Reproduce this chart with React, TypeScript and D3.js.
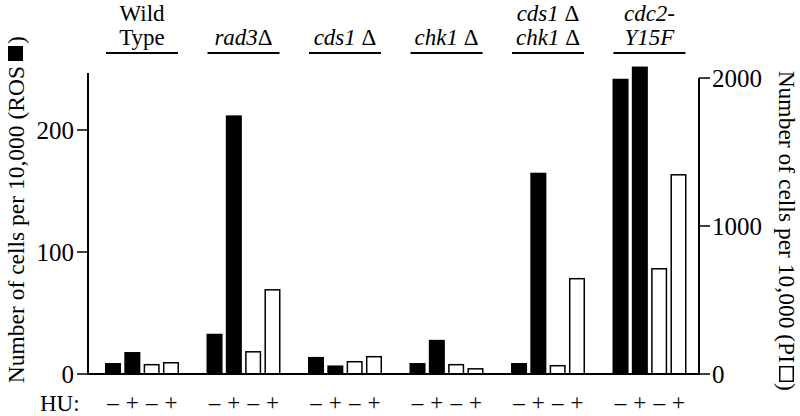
import React from "react";
import * as d3 from "d3";

const groups = ["wt", "rad3", "cds1", "chk1", "cds1chk1", "cdc2"];
const groupLine1 = ["Wild", "", "", "", "cds1", "cdc2-"];
const groupLine2 = ["Type", "rad3", "cds1", "chk1", "chk1", "Y15F"];
const groupItalic = [false, true, true, true, true, true];
const groupDelta1 = [false, false, false, false, true, false];
const groupDelta2 = [false, true, true, true, true, false];
const huLabels = ["–", "+", "–", "+"];
const rosMinus = [9, 33, 14, 9, 9, 242];
const rosPlus = [18, 212, 7, 28, 165, 252];
const piMinus = [68, 155, 88, 68, 61, 716];
const piPlus = [81, 574, 122, 40, 649, 1351];
const leftTicks = [0, 100, 200];
const rightTicks = [0, 1000, 2000];

const FONT = "Liberation Serif";

export default function App() {
  const x = d3.scaleBand<string>().domain(groups).range([91.25, 700.25]).paddingInner(0.271).paddingOuter(0.1355);
  const xi = d3.scaleBand<number>().domain([0, 1, 2, 3]).range([0, x.bandwidth()]).paddingInner(0.17).paddingOuter(0);
  const yL = d3.scaleLinear().domain([0, 200]).range([374, 130]);
  const yR = d3.scaleLinear().domain([0, 2000]).range([374, 78]);
  const leftTop = yL(246.7);
  const axL = 88;
  const axR = 699;
  const base = 374;

  const bars: { x: number; y: number; w: number; h: number; black: boolean }[] = [];
  groups.forEach((g, gi) => {
    const vals = [rosMinus[gi], rosPlus[gi], piMinus[gi], piPlus[gi]];
    vals.forEach((v, k) => {
      const black = k < 2;
      const sc = black ? yL : yR;
      const bx = (x(g) as number) + (xi(k) as number);
      bars.push({ x: bx, y: sc(v), w: xi.bandwidth(), h: base - sc(v), black });
    });
  });

  return (
    <svg width={800} height={416} style={{ position: "absolute", left: 0, top: 0 }}>
      <g fontFamily={FONT}>
        {groups.map((g, gi) => {
          const cx = (x(g) as number) + x.bandwidth() / 2;
          const it = groupItalic[gi] ? "italic" : "normal";
          return (
            <g key={g}>
              {groupLine1[gi] && (
                <text x={cx} y={21} textAnchor="middle" fontSize={23} fontFamily={FONT} fontStyle={it}>
                  {groupLine1[gi]}
                  {groupDelta1[gi] && <tspan fontStyle="normal">{" Δ"}</tspan>}
                </text>
              )}
              <text x={cx} y={45} textAnchor="middle" fontSize={23} fontFamily={FONT} fontStyle={it}>
                {groupLine2[gi]}
                {groupDelta2[gi] && <tspan fontStyle="normal">{gi === 1 ? "Δ" : " Δ"}</tspan>}
              </text>
              <line x1={(x(g) as number) + 1} x2={(x(g) as number) + x.bandwidth() - 1} y1={53} y2={53} stroke="#000" strokeWidth={2.2} />
            </g>
          );
        })}
        {bars.map((b, i) =>
          b.black ? (
            <rect key={i} x={b.x} y={b.y} width={b.w} height={b.h} fill="#000" />
          ) : (
            <rect key={i} x={b.x + 0.75} y={b.y + 0.75} width={b.w - 1.5} height={b.h - 0.75} fill="#fff" stroke="#000" strokeWidth={1.5} />
          )
        )}
        <line x1={axL} x2={axL} y1={leftTop} y2={base + 1} stroke="#000" strokeWidth={2} />
        <line x1={axR} x2={axR} y1={yR(2000)} y2={base + 1} stroke="#000" strokeWidth={2} />
        <line x1={axL} x2={axR} y1={base} y2={base} stroke="#000" strokeWidth={2} />
        {leftTicks.map((t) => (
          <g key={"l" + t}>
            <line x1={axL - 11} x2={axL} y1={yL(t)} y2={yL(t)} stroke="#000" strokeWidth={1.5} />
            <text x={axL - 14} y={yL(t) + 8.5} textAnchor="end" fontSize={25} fontFamily={FONT}>
              {t}
            </text>
          </g>
        ))}
        {rightTicks.map((t) => (
          <g key={"r" + t}>
            <line x1={axR} x2={axR + 11} y1={yR(t)} y2={yR(t)} stroke="#000" strokeWidth={1.5} />
            <text x={axR + 13} y={yR(t) + 8.5} textAnchor="start" fontSize={25} fontFamily={FONT}>
              {t}
            </text>
          </g>
        ))}
        {/* left title: text + drawn filled square + ")" */}
        <text transform={`translate(24,66) rotate(-90)`} textAnchor="end" fontSize={23.5} fontFamily={FONT}>
          Number of cells per 10,000 (ROS
        </text>
        <rect x={8} y={46} width={15} height={15} fill="#000" />
        <text transform={`translate(24,44) rotate(-90)`} textAnchor="start" fontSize={23.5} fontFamily={FONT}>
          )
        </text>
        {/* right title */}
        <text transform={`translate(779,363) rotate(90)`} textAnchor="end" fontSize={23.5} fontFamily={FONT}>
          Number of cells per 10,000 (PI
        </text>
        <rect x={779.75} y={366.75} width={13.5} height={14.5} fill="#fff" stroke="#000" strokeWidth={1.5} />
        <text transform={`translate(779,383) rotate(90)`} textAnchor="start" fontSize={23.5} fontFamily={FONT}>
          )
        </text>
        <text x={40} y={411} fontSize={23} fontFamily={FONT}>
          HU:
        </text>
        {groups.map((g) =>
          huLabels.map((l, k) => (
            <text key={g + k} x={(x(g) as number) + (xi(k) as number) + xi.bandwidth() / 2} y={410} textAnchor="middle" fontSize={23} fontFamily={FONT}>
              {l}
            </text>
          ))
        )}
      </g>
    </svg>
  );
}
